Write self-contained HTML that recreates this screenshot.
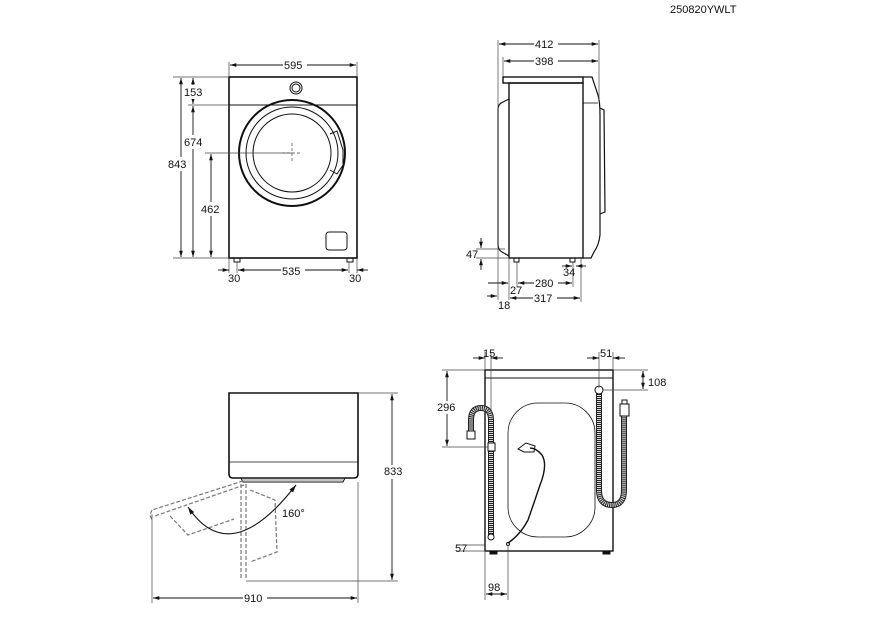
<!DOCTYPE html>
<html><head><meta charset="utf-8"><style>
body{margin:0;background:#fff}
svg{display:block}
text{font-family:"Liberation Sans",sans-serif;font-size:11px;fill:#111}
</style></head><body>
<svg width="880" height="617" viewBox="0 0 880 617" xmlns="http://www.w3.org/2000/svg">
<defs>
<marker id="a" viewBox="0 0 10 10" refX="10" refY="5" markerWidth="7" markerHeight="7" orient="auto-start-reverse"><path d="M0,2 L10,5 L0,8 z" fill="#111"/></marker>
</defs>
<text x="670" y="13" style="font-size:11px">250820YWLT</text>

<!-- FRONT VIEW -->
<g fill="none" stroke="#111">
<rect x="229" y="77" width="128" height="181" stroke-width="1.6"/>
<line x1="229" y1="105" x2="357" y2="105" stroke-width="1"/>
<circle cx="296" cy="88" r="6" stroke-width="1"/><circle cx="296" cy="88" r="4" stroke-width="1"/>
<circle cx="292" cy="153" r="53" stroke-width="2"/>
<circle cx="292" cy="153" r="46" stroke-width="1"/>
<circle cx="292" cy="153" r="39" stroke-width="1"/>
<path d="M330,134 L337,131 L343,150 L343,165 L337,174 L330,170" stroke-width="1"/>
<rect x="326" y="232" width="21" height="18" rx="3" stroke-width="1"/>
<rect x="234" y="258" width="6" height="4" stroke-width="1"/><rect x="347" y="258" width="6" height="4" stroke-width="1"/>
<g stroke-width="0.7" stroke="#444">
<line x1="229" y1="62" x2="229" y2="77"/><line x1="357" y1="62" x2="357" y2="77"/>
<line x1="173" y1="77" x2="229" y2="77"/><line x1="188" y1="105" x2="229" y2="105"/>
<line x1="173" y1="258" x2="229" y2="258"/><line x1="205" y1="153" x2="292" y2="153"/>
<line x1="237" y1="262" x2="237" y2="273"/><line x1="349" y1="262" x2="349" y2="273"/>
<line x1="229" y1="258" x2="229" y2="273"/><line x1="357" y1="258" x2="357" y2="273"/>
<line x1="292" y1="143" x2="292" y2="163" stroke-dasharray="3,2"/><line x1="282" y1="153" x2="302" y2="153" stroke-dasharray="3,2"/>
</g>
<g stroke-width="0.9" marker-start="url(#a)" marker-end="url(#a)">
<line x1="230" y1="65" x2="356" y2="65"/>
<line x1="181" y1="78" x2="181" y2="257"/>
<line x1="193" y1="106" x2="193" y2="257"/>
<line x1="211" y1="154" x2="211" y2="257"/>
<line x1="238" y1="270" x2="348" y2="270"/>
</g>
<g stroke-width="0.9">
<line x1="193" y1="78" x2="193" y2="104" marker-start="url(#a)" marker-end="url(#a)"/>
<line x1="218" y1="270" x2="229" y2="270" marker-end="url(#a)"/>
<line x1="368" y1="270" x2="357" y2="270" marker-end="url(#a)"/>
</g>
</g>
<g>
<rect x="283" y="58" width="24" height="13" fill="#fff"/><text x="284" y="69">595</text>
<rect x="183" y="85" width="22" height="14" fill="#fff"/><text x="184" y="96">153</text>
<rect x="183" y="135" width="22" height="14" fill="#fff"/><text x="184" y="146">674</text>
<rect x="168" y="157" width="24" height="14" fill="#fff"/><text x="168" y="168">843</text>
<rect x="200" y="202" width="22" height="14" fill="#fff"/><text x="201" y="213">462</text>
<rect x="281" y="264" width="24" height="13" fill="#fff"/><text x="282" y="275">535</text>
<text x="228" y="282">30</text><text x="349" y="282">30</text>
</g>

<!-- SIDE VIEW -->
<g fill="none" stroke="#111">
<rect x="503" y="77" width="80" height="6" stroke-width="1.4"/>
<rect x="509" y="83" width="74" height="175" stroke-width="1.4"/>
<path d="M509,99 L501,103 Q498,105 498,110 L498,244 Q498,250 502,252 L509,256" stroke-width="1.2"/>
<path d="M583,77 L592,77 L598,95 Q600,102 600,115 L600,235 Q599,245 594,252 L591,258 L583,258" stroke-width="1.2"/>
<line x1="583" y1="103" x2="598" y2="103" stroke-width="0.8"/>
<path d="M600,108 L604,110 L605,212 L600,214" stroke-width="1.2"/>
<rect x="514" y="258" width="5" height="4" stroke-width="1"/><rect x="570" y="258" width="5" height="4" stroke-width="1"/>
<g stroke-width="0.7" stroke="#444">
<line x1="498" y1="40" x2="498" y2="300"/><line x1="599" y1="40" x2="599" y2="100"/>
<line x1="503" y1="57" x2="503" y2="77"/>
<line x1="509" y1="258" x2="509" y2="300"/>
<line x1="517" y1="262" x2="517" y2="287"/><line x1="573" y1="262" x2="573" y2="287"/>
<line x1="581" y1="258" x2="581" y2="302"/>
<line x1="476" y1="249" x2="505" y2="249"/><line x1="476" y1="258" x2="509" y2="258"/>
</g>
<g stroke-width="0.9" marker-start="url(#a)" marker-end="url(#a)">
<line x1="499" y1="44" x2="598" y2="44"/>
<line x1="504" y1="61" x2="598" y2="61"/>
<line x1="518" y1="283" x2="572" y2="283"/>
<line x1="510" y1="298" x2="580" y2="298"/>
</g>
<g stroke-width="0.9" marker-end="url(#a)">
<line x1="481" y1="238" x2="481" y2="248"/><line x1="481" y1="270" x2="481" y2="259"/>
<line x1="487" y1="296" x2="497" y2="296"/>
<line x1="488" y1="283" x2="508" y2="283"/>
<line x1="562" y1="266" x2="572" y2="266"/><line x1="586" y1="266" x2="576" y2="266"/>
</g>
</g>
<g>
<rect x="534" y="38" width="24" height="13" fill="#fff"/><text x="535" y="48">412</text>
<rect x="534" y="55" width="24" height="13" fill="#fff"/><text x="535" y="65">398</text>
<text x="466" y="258">47</text>
<rect x="534" y="277" width="24" height="13" fill="#fff"/><text x="535" y="287">280</text>
<text x="510" y="294">27</text><text x="563" y="276">34</text>
<rect x="533" y="292" width="24" height="13" fill="#fff"/><text x="534" y="302">317</text>
<text x="498" y="309">18</text>
</g>

<!-- TOP VIEW (door open) -->
<g fill="none" stroke="#111">
<path d="M229,393 L358,393 L358,474 Q358,478 354,478 L233,478 Q229,478 229,474 Z" stroke-width="1.6"/>
<line x1="229" y1="462" x2="358" y2="462" stroke-width="0.8"/>
<path d="M241,478 L243,482 L343,482 L345,478" stroke-width="1"/>
<line x1="243" y1="480" x2="343" y2="480" stroke-width="0.6"/>
<g stroke="#777" stroke-width="1.2" stroke-dasharray="4,2">
<line x1="243" y1="481" x2="152" y2="510"/>
<line x1="244" y1="485" x2="155" y2="516"/>
<path d="M170,516 L188,535 L234,519"/>
<line x1="241" y1="484" x2="241" y2="578"/>
<line x1="246" y1="484" x2="246" y2="578"/>
<path d="M250,490 L275,500 L277,552 L250,562"/>
<path d="M152,510 L150,515 L152,520"/>
</g>
<path d="M188,507 Q230,570 296,485" stroke-width="1.1" marker-start="url(#a)" marker-end="url(#a)"/>
<g stroke-width="0.7" stroke="#444">
<line x1="358" y1="393" x2="398" y2="393"/><line x1="246" y1="581" x2="398" y2="581"/>
<line x1="152" y1="514" x2="152" y2="603"/><line x1="358" y1="482" x2="358" y2="603"/>
</g>
<g stroke-width="0.9" marker-start="url(#a)" marker-end="url(#a)">
<line x1="392" y1="394" x2="392" y2="580"/>
<line x1="153" y1="598" x2="357" y2="598"/>
</g>
</g>
<g>
<text x="282" y="517">160°</text>
<rect x="383" y="465" width="24" height="14" fill="#fff"/><text x="384" y="475">833</text>
<rect x="243" y="592" width="24" height="13" fill="#fff"/><text x="244" y="602">910</text>
</g>

<!-- BACK VIEW -->
<g fill="none" stroke="#111">
<rect x="485" y="370" width="128" height="181" stroke-width="1.4"/>
<line x1="485" y1="378" x2="613" y2="378" stroke-width="1"/>
<rect x="508" y="403" width="87" height="134" rx="30" stroke-width="0.8"/>
<rect x="490" y="551" width="7" height="3" fill="#111"/><rect x="603" y="551" width="7" height="3" fill="#111"/>
<path d="M491,537 L491,420 Q491,408 481,408 Q471,408 471,420 L471,432" stroke="#222" stroke-width="6"/>
<path d="M491,537 L491,420 Q491,408 481,408 Q471,408 471,420 L471,432" stroke="#ddd" stroke-width="4" stroke-dasharray="1,1"/>
<rect x="467" y="431" width="8" height="8" fill="#fff" stroke-width="1"/>
<rect x="488" y="443" width="7" height="8" fill="#fff" stroke-width="1"/>
<circle cx="491" cy="537" r="3" fill="#fff" stroke-width="1"/>
<path d="M599,391 L599,490 Q599,505 612,505 Q624,505 624,490 L624,416" stroke="#222" stroke-width="6"/>
<path d="M599,391 L599,490 Q599,505 612,505 Q624,505 624,490 L624,416" stroke="#ddd" stroke-width="4" stroke-dasharray="1,1"/>
<circle cx="599" cy="390" r="4" fill="#fff" stroke-width="1"/>
<rect x="620" y="404" width="9" height="12" fill="#fff" stroke-width="1"/><rect x="622" y="400" width="5" height="4" stroke-width="1"/>
<path d="M508,543 Q520,535 528,520 Q535,500 540,485 Q548,465 542,455 Q536,448 530,448" stroke-width="1.4"/>
<path d="M518,449 L526,443 L535,446 L534,452 L524,452 Z" stroke-width="1"/>
<circle cx="508" cy="544" r="1.5" stroke-width="1"/>
<g stroke-width="0.7" stroke="#444">
<line x1="485" y1="352" x2="485" y2="370"/><line x1="491" y1="352" x2="491" y2="410"/>
<line x1="599" y1="352" x2="599" y2="388"/><line x1="613" y1="352" x2="613" y2="370"/>
<line x1="613" y1="370" x2="648" y2="370"/><line x1="603" y1="390" x2="648" y2="390"/>
<line x1="442" y1="370" x2="485" y2="370"/><line x1="442" y1="447" x2="488" y2="447"/>
<line x1="456" y1="545" x2="485" y2="545"/><line x1="456" y1="551" x2="485" y2="551"/>
<line x1="485" y1="551" x2="485" y2="600"/><line x1="508" y1="545" x2="508" y2="600"/>
</g>
<g stroke-width="0.9" marker-start="url(#a)" marker-end="url(#a)">
<line x1="447" y1="371" x2="447" y2="446"/>
<line x1="643" y1="371" x2="643" y2="389"/>
<line x1="486" y1="594" x2="507" y2="594"/>
</g>
<g stroke-width="0.9" marker-end="url(#a)">
<line x1="473" y1="358" x2="485" y2="358"/><line x1="503" y1="358" x2="491" y2="358"/>
<line x1="587" y1="358" x2="599" y2="358"/><line x1="625" y1="358" x2="613" y2="358"/>
</g>
</g>
<g>
<text x="483" y="357">15</text><text x="600" y="357">51</text>
<text x="648" y="386">108</text>
<rect x="436" y="401" width="22" height="13" fill="#fff"/><text x="437" y="411">296</text>
<text x="455" y="552">57</text>
<text x="488" y="591">98</text>
</g>
</svg>
</body></html>
